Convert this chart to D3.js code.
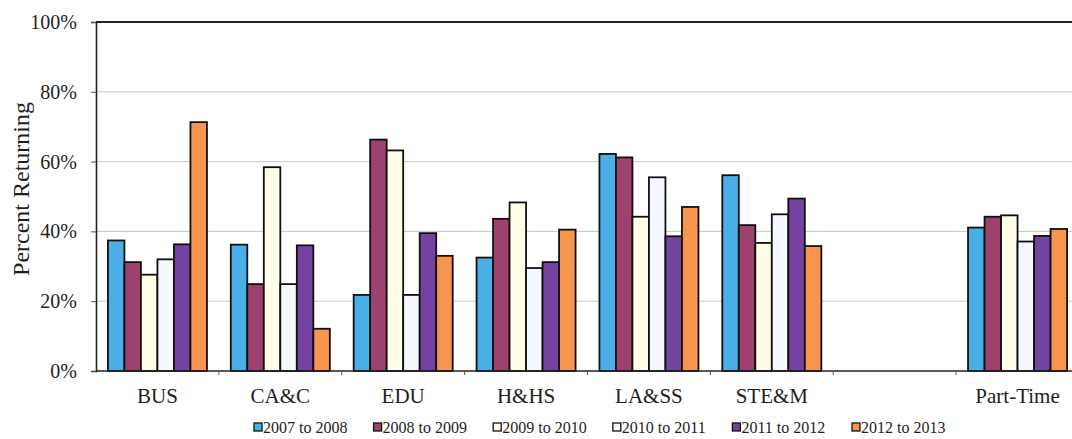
<!DOCTYPE html>
<html>
<head>
<meta charset="utf-8">
<script src="https://cdn.jsdelivr.net/npm/d3@7"></script>
<style>
    html, body { margin: 0; padding: 0; background: #fff; }
    svg { display: block; }
    svg text { font-family: 'Liberation Serif', 'Times New Roman', serif !important; fill: #1e1e1e; }
</style>
</head>
<body>
<div class="chart-container"></div>
<script>
/* global d3 */
'use strict';

// categories (the empty one is the gap before Part-Time)
var categories = ['BUS', 'CA&C', 'EDU', 'H&HS', 'LA&SS', 'STE&M', '', 'Part-Time'];
var years = ['2007 to 2008', '2008 to 2009', '2009 to 2010', '2010 to 2011', '2011 to 2012', '2012 to 2013'];

// percent returning, one list per year, same order as categories
var y2007 = [37.4, 36.2, 21.8, 32.5, 62.2, 56.1, null, 41.1];
var y2008 = [31.2, 24.9, 66.3, 43.6, 61.2, 41.8, null, 44.2];
var y2009 = [27.6, 58.4, 63.2, 48.3, 44.2, 36.7, null, 44.6];
var y2010 = [32.0, 24.9, 21.8, 29.5, 55.5, 44.9, null, 37.1];
var y2011 = [36.3, 36.0, 39.5, 31.2, 38.6, 49.4, null, 38.7];
var y2012 = [71.3, 12.1, 33.0, 40.5, 47.0, 35.8, null, 40.7];

var yTicks = [0, 20, 40, 60, 80, 100];

var series = [y2007, y2008, y2009, y2010, y2011, y2012];
var colors = ['#4aafe6', '#9d426f', '#fffde6', '#f5f8ff', '#7442a0', '#f7954f'];

var width = 1072, height = 439;

var svg = d3.select('.chart-container')
    .append('svg')
        .attr('width', width)
        .attr('height', height);

var x0 = d3.scaleBand()
    .domain(categories)
    .range([96, 1079])
    .paddingInner(0.194)
    .paddingOuter(0.097);

var x1 = d3.scaleBand()
    .domain(d3.range(years.length))
    .range([0, x0.bandwidth()]);

var y = d3.scaleLinear()
    .domain([0, 100])
    .range([371, 22]);

// gridlines
svg.append('g')
    .selectAll('line')
    .data(yTicks.slice(1, -1))
    .enter().append('line')
        .attr('x1', x0.range()[0])
        .attr('x2', x0.range()[1])
        .attr('y1', function (d) { return y(d); })
        .attr('y2', function (d) { return y(d); })
        .attr('stroke', '#c8c8c8')
        .attr('stroke-width', 1);

// top border of plot
svg.append('line')
    .attr('x1', x0.range()[0])
    .attr('x2', x0.range()[1])
    .attr('y1', y(100))
    .attr('y2', y(100))
    .attr('stroke', '#222')
    .attr('stroke-width', 2);

// bars
var groups = svg.append('g')
    .selectAll('g')
    .data(categories)
    .enter().append('g')
        .attr('transform', function (d) { return 'translate(' + x0(d) + ',0)'; });

groups.selectAll('rect')
    .data(function (d, i) {
        return series.map(function (s, k) { return { k: k, v: s[i] }; })
            .filter(function (e) { return e.v !== null; });
    })
    .enter().append('rect')
        .attr('x', function (d) { return x1(d.k); })
        .attr('width', x1.bandwidth())
        .attr('y', function (d) { return y(d.v); })
        .attr('height', function (d) { return y(0) - y(d.v); })
        .attr('fill', function (d) { return colors[d.k]; })
        .attr('stroke', '#111')
        .attr('stroke-width', 1.8);

// y axis
var yAxis = svg.append('g')
    .attr('transform', 'translate(96,0)')
    .call(d3.axisLeft(y)
        .tickValues(yTicks)
        .tickFormat(function (d) { return d + '%'; })
        .tickSize(5)
        .tickPadding(14));
yAxis.select('.domain').attr('stroke', '#222').attr('stroke-width', 1.6);
yAxis.selectAll('.tick line').attr('stroke', '#555');
yAxis.selectAll('text')
    .style('font-size', '20px');

// x axis
var xAxis = svg.append('g')
    .attr('transform', 'translate(0,' + y(0) + ')')
    .call(d3.axisBottom(x0)
        .tickSize(0)
        .tickPadding(17));
xAxis.select('.domain').remove();
xAxis.selectAll('text')
    .style('font-size', '21px');

svg.append('line')
    .attr('x1', x0.range()[0])
    .attr('x2', x0.range()[1])
    .attr('y1', y(0))
    .attr('y2', y(0))
    .attr('stroke', '#222')
    .attr('stroke-width', 1.6);

// small ticks between categories
svg.append('g')
    .selectAll('line')
    .data(d3.range(1, categories.length))
    .enter().append('line')
        .attr('x1', function (d) { return x0.range()[0] + d * x0.step(); })
        .attr('x2', function (d) { return x0.range()[0] + d * x0.step(); })
        .attr('y1', y(0))
        .attr('y2', y(0) + 4)
        .attr('stroke', '#555');

// y axis title
svg.append('text')
    .attr('transform', 'translate(29,189) rotate(-90)')
    .style('text-anchor', 'middle')
    .style('font-size', '24px')
    .text('Percent Returning');

// legend
var legend = svg.append('g')
    .selectAll('g')
    .data(years)
    .enter().append('g')
        .attr('transform', function (d, i) { return 'translate(' + (254 + i * 119.6) + ',427)'; });

legend.append('rect')
    .attr('x', 0)
    .attr('y', -4)
    .attr('width', 8)
    .attr('height', 8)
    .attr('fill', function (d, i) { return colors[i]; })
    .attr('stroke', '#111')
    .attr('stroke-width', 1.3);

legend.append('text')
    .attr('x', 9)
    .attr('y', 5.5)
    .style('font-size', '16px')
    .text(function (d) { return d; });
</script>
</body>
</html>
